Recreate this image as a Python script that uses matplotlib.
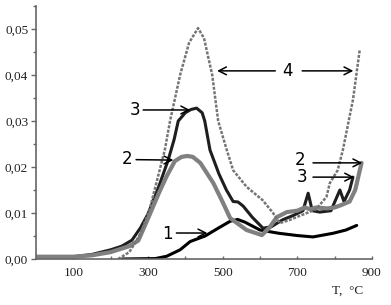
import numpy as np
import matplotlib
matplotlib.use("Agg")
import matplotlib.pyplot as plt
from matplotlib.ticker import MultipleLocator, FixedLocator, FixedFormatter

# curve 1
T1 = [230, 320, 350, 386, 413, 453, 490, 520, 540, 560, 600, 650, 700, 742, 796, 830, 859]
v1 = [0, 0.0001, 0.0006, 0.002, 0.0038, 0.005, 0.0068, 0.0082, 0.0086, 0.008, 0.0063,
      0.0056, 0.0051, 0.0048, 0.0056, 0.0063, 0.0073]
# curve 2
T2 = [0, 100, 150, 200, 250, 274, 300, 330, 350, 372, 390, 405, 420, 440, 475, 501, 520,
      564, 605, 625, 645, 672, 700, 720, 735, 750, 780, 800, 820, 840, 855, 872]
v2 = [0.0005, 0.0005, 0.0008, 0.0015, 0.0028, 0.004, 0.0088, 0.0145, 0.018, 0.0213, 0.0222,
      0.0224, 0.0222, 0.0209, 0.0165, 0.0122, 0.0089, 0.0063, 0.0052, 0.0068, 0.0091, 0.0102,
      0.0105, 0.0112, 0.0108, 0.0112, 0.011, 0.0112, 0.0118, 0.0125, 0.015, 0.0209]
# curve 3
T3 = [0, 100, 150, 200, 230, 257, 280, 300, 330, 354, 370, 381, 400, 415, 430, 445, 452, 466,
      490, 510, 528, 541, 555, 579, 608, 630, 660, 690, 715, 729, 740, 760, 790, 814, 825, 840, 849]
v3 = [0.0005, 0.0005, 0.001, 0.002, 0.0028, 0.0041, 0.0068, 0.0098, 0.016, 0.0215, 0.026, 0.03,
      0.0318, 0.0325, 0.0328, 0.0318, 0.03, 0.0237, 0.0185, 0.015, 0.0125, 0.0124, 0.0115,
      0.0091, 0.0067, 0.007, 0.0085, 0.0095, 0.0105, 0.0143, 0.0105, 0.0102, 0.0105, 0.015,
      0.0125, 0.015, 0.0178]
# curve 4
T4 = [220, 250, 280, 305, 338, 345, 359, 386, 410, 434, 450, 472, 488, 511, 528, 564, 607,
      635, 653, 680, 710, 750, 778, 787, 808, 822, 840, 849, 858, 867]
v4 = [0, 0.0015, 0.0055, 0.011, 0.0215, 0.0237, 0.03, 0.04, 0.047, 0.0502, 0.048, 0.04, 0.03,
      0.0237, 0.0193, 0.0157, 0.0128, 0.01, 0.0078, 0.0085, 0.0095, 0.0108, 0.0135, 0.0165,
      0.0193, 0.0237, 0.031, 0.0346, 0.04, 0.0454]

xtick_vals = [100, 300, 500, 700, 900]
ytick_vals = [0.0, 0.01, 0.02, 0.03, 0.04, 0.05]
ytick_labels = ["0,00", "0,01", "0,02", "0,03", "0,04", "0,05"]

fig = plt.figure(figsize=(3.91, 3.05), dpi=100)
ax = fig.add_axes([0.0921, 0.1508, 0.8593, 0.8295])

ax.plot(T1, v1, color="black", lw=2.2, solid_capstyle="round")
ax.plot(T3, v3, color="#1e1e1e", lw=2.2, solid_capstyle="round")
ax.plot(T2, v2, color="#808080", lw=3.0, solid_capstyle="round")
ax.plot(T4, v4, color="#747474", lw=1.8, linestyle=(0, (1.2, 0.6)))

ax.set_xlim(0, 900)
ax.set_ylim(0, 0.055)

for s in ["top", "right"]:
    ax.spines[s].set_visible(False)
for s in ["left", "bottom"]:
    ax.spines[s].set_color("#666666")
    ax.spines[s].set_linewidth(1.2)

ax.xaxis.set_major_locator(FixedLocator(xtick_vals))
ax.xaxis.set_minor_locator(MultipleLocator(100))
ax.yaxis.set_major_locator(FixedLocator(ytick_vals))
ax.yaxis.set_major_formatter(FixedFormatter(ytick_labels))
ax.yaxis.set_minor_locator(MultipleLocator(0.005))
ax.tick_params(axis="x", which="both", direction="in", length=2.5, width=1, color="#666666",
               pad=6)
ax.tick_params(axis="y", which="major", direction="out", length=3.6, width=1, color="#666666",
               pad=2)
ax.tick_params(axis="y", which="minor", direction="out", length=2.2, width=1, color="#666666")
for lab in ax.get_xticklabels() + ax.get_yticklabels():
    lab.set_fontfamily("Liberation Serif")
    lab.set_fontsize(9.5)
    lab.set_color("#222222")

ax.text(834, -0.0070, "T,  °C", family="Liberation Serif", fontsize=9.5, color="#222222",
        ha="center", va="center", clip_on=False)

arr = dict(arrowstyle="->,head_length=0.55,head_width=0.28", color="black", lw=1.1,
           shrinkA=0, shrinkB=0)
# label text, arrow tail, arrow head
notes = [
    ("1", (351, 0.0054), (376, 0.00565), (459, 0.00565)),
    ("2", (244, 0.0217), (268, 0.0216), (368, 0.0215)),
    ("3", (266, 0.0324), (287, 0.0324), (413, 0.0324)),
    ("2", (707, 0.0215), (742, 0.0209), (874, 0.0209)),
    ("3", (713, 0.0178), (742, 0.0178), (852, 0.0178)),
]
for txt, tpos, tail, head in notes:
    ax.text(tpos[0], tpos[1], txt, fontsize=12, ha="center", va="center", family="DejaVu Sans")
    ax.annotate("", xy=head, xytext=tail, arrowprops=arr)

ax.text(673, 0.0408, "4", fontsize=12, ha="center", va="center", family="DejaVu Sans")
ax.annotate("", xy=(485, 0.0409), xytext=(641, 0.0409), arrowprops=arr)
ax.annotate("", xy=(850, 0.0409), xytext=(713, 0.0409), arrowprops=arr)

fig.savefig("out.png", dpi=100)
